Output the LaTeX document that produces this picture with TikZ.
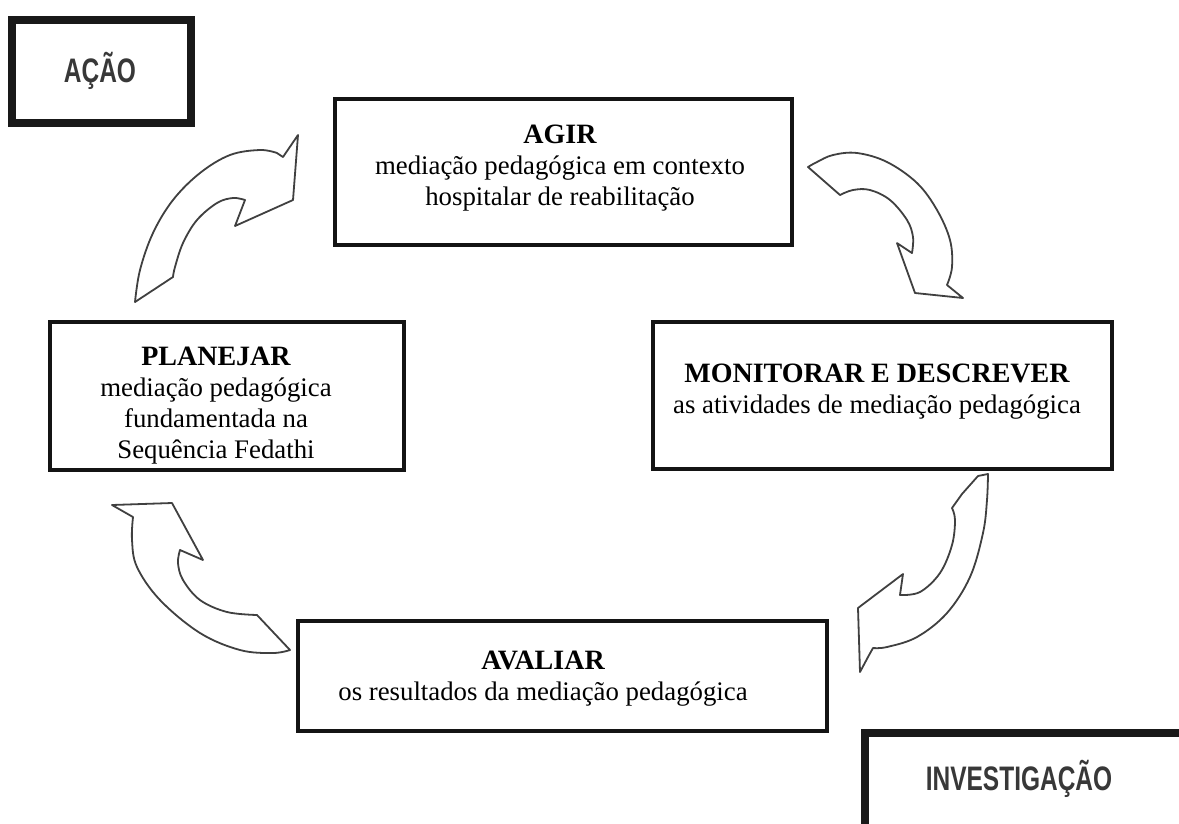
\documentclass[tikz,border=0pt]{standalone}
\usepackage{fontspec}
\setmainfont{Liberation Serif}
\newfontfamily\labelfont[FakeStretch=0.72]{Liberation Sans}
\newcommand\stagetitle[1]{{\bfseries\fontsize{28}{31}\selectfont #1}}
\begin{document}
\begin{tikzpicture}[x=1pt,y=-1pt,
  stagebox/.style={draw=black!92, line width=4pt, fill=white, inner sep=0pt},
  tagbox/.style={draw=black!90, line width=8pt, inner sep=0pt},
  stagetext/.style={align=center, font=\fontsize{26.8}{31}\selectfont, text=black},
  tagtext/.style={font=\labelfont\bfseries\fontsize{34}{40}\selectfont, text=black!78, inner sep=0pt},
  cyclearrow/.style={draw=black!75, line width=1.8pt, fill=white, line join=round}
]
\useasboundingbox (0,0) rectangle (1179,823);
\fill[white] (0,0) rectangle (1179,823);

% corner tags
\node[tagbox, minimum width=179pt, minimum height=103pt] (acaobox) at (101.5,71.5) {};
\node[tagtext, anchor=base] (acao) at (100,82) {AÇÃO};
\begin{scope}
  \clip (0,0) rectangle (1179,823);
  \node[tagbox, minimum width=365pt, minimum height=147pt] (investbox) at (1047.5,806.5) {};
\end{scope}
\node[tagtext, anchor=base] (invest) at (1019,790) {INVESTIGAÇÃO};

% the four stages of the cycle
\node[stagebox, minimum width=457pt, minimum height=146pt] (agir) at (563.5,172) {};
\node[stagetext] (agirtxt) at (560,168) {\stagetitle{AGIR}\\mediação pedagógica em contexto\\hospitalar de reabilitação};

\node[stagebox, minimum width=459pt, minimum height=147pt] (monitorar) at (882.5,395.5) {};
\node[stagetext] (monitorartxt) at (877,391.5) {\stagetitle{MONITORAR E DESCREVER}\\as atividades de mediação pedagógica};

\node[stagebox, minimum width=529pt, minimum height=110pt] (avaliar) at (562.5,676) {};
\node[stagetext] (avaliartxt) at (543,679) {\stagetitle{AVALIAR}\\os resultados da mediação pedagógica};

\node[stagebox, minimum width=354pt, minimum height=148pt] (planejar) at (227,396) {};
\node[stagetext] (planejartxt) at (216,405.5) {\stagetitle{PLANEJAR}\\mediação pedagógica\\fundamentada na\\Sequência Fedathi};

% curved block arrows between the stages
% planejar -> agir
\draw[cyclearrow] (135,302)
  -- plot[smooth, tension=0.6] coordinates {(135,302) (140,270) (153,233) (173,200) (200,173) (230,155) (260,150) (277,153)}
  -- (283,157) -- (298,135) -- (293,200) -- (235,226) -- (245,200)
  -- plot[smooth, tension=0.6] coordinates {(245,200) (233,198) (217,203) (197,220) (183,243) (175,267) (173,277)}
  -- cycle;
% agir -> monitorar
\draw[cyclearrow] (808,167) -- (840,195)
  -- plot[smooth, tension=0.6] coordinates {(840,195) (853,190) (870,190) (890,200) (907,220) (913,237) (912,253)}
  -- (897,243) -- (915,293) -- (963,298) -- (947,285)
  -- plot[smooth, tension=0.6] coordinates {(947,285) (952,267) (950,240) (937,210) (917,183) (887,162) (857,153) (833,155) (817,162) (808,167)}
  -- cycle;
% monitorar -> avaliar
\draw[cyclearrow] (988,474)
  -- plot[smooth, tension=0.6] coordinates {(988,474) (987,500) (983,533) (970,577) (947,613) (917,637) (887,647) (873,648)}
  -- (868,657) -- (860,672) -- (858,608) -- (903,574) -- (900,595)
  -- plot[smooth, tension=0.6] coordinates {(900,595) (920,592) (940,573) (952,545) (955,520) (952,508)}
  -- (962,494) -- (978,476) -- cycle;
% avaliar -> planejar
\draw[cyclearrow] (112,505) -- (172,503) -- (203,560) -- (180,550)
  -- plot[smooth, tension=0.6] coordinates {(180,550) (178,563) (183,580) (200,600) (227,612) (257,615)}
  -- (290,650)
  -- plot[smooth, tension=0.6] coordinates {(290,650) (273,653) (240,650) (200,633) (160,600) (137,567) (132,540) (133,517)}
  -- cycle;
\end{tikzpicture}
\end{document}
